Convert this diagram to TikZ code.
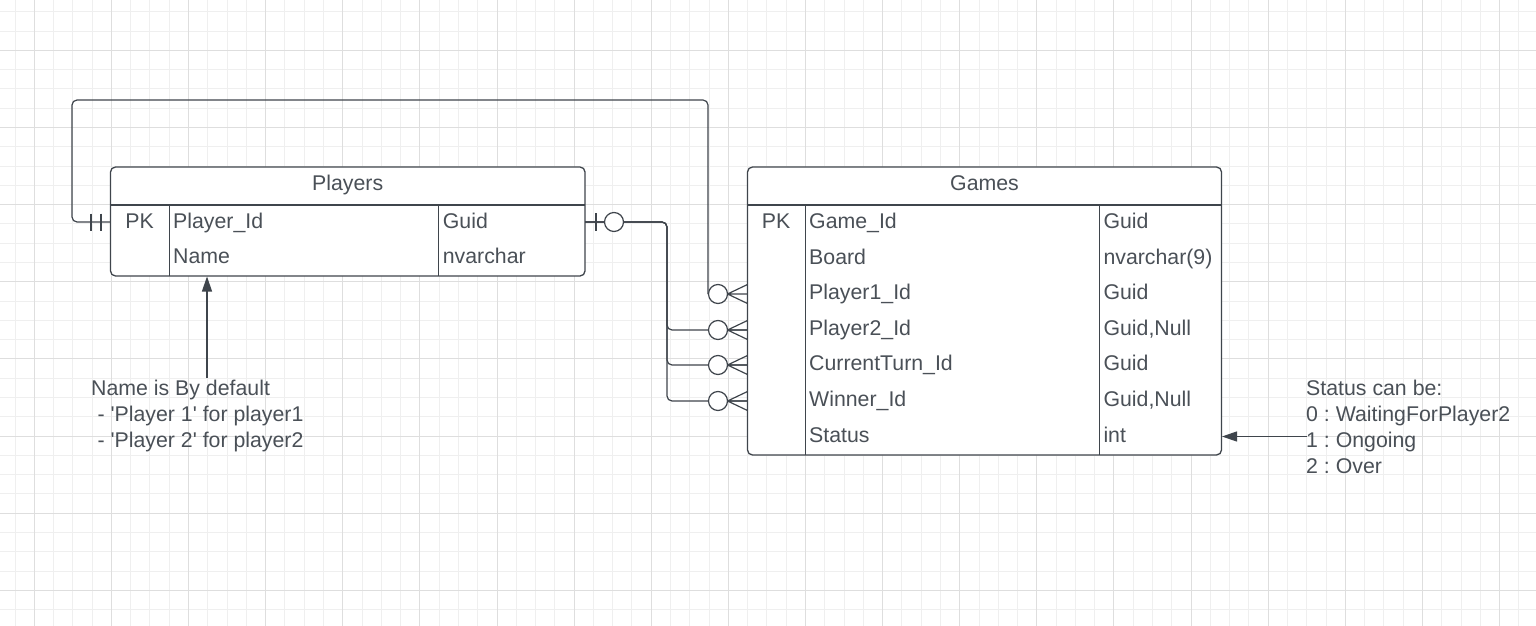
\documentclass[tikz,border=0pt]{standalone}
\usepackage{fontspec}
\setmainfont{Liberation Sans}
\usetikzlibrary{arrows.meta,calc}
\frenchspacing
\definecolor{lineC}{HTML}{3F454C}
\definecolor{textC}{HTML}{4A5057}
\definecolor{gridMinor}{HTML}{EFEFEF}
\definecolor{gridMajor}{HTML}{DEDEDE}
\tikzset{
  conn/.style={draw=lineC, line width=1.2pt},
  tblborder/.style={draw=lineC, line width=1.3pt, rounded corners=5pt},
  divider/.style={draw=lineC, line width=1pt},
  txt/.style={text=textC, inner sep=0pt, anchor=base west, font=\fontsize{21.3}{25.9}\selectfont},
  hdr/.style={text=textC, inner sep=0pt, anchor=base, font=\fontsize{21.3}{25.9}\selectfont},
  zeromany/.pic={
    \draw[conn] (-20,0) -- (0,-9.5) (-20,0) -- (0,0) (-20,0) -- (0,9.5);
    \draw[conn, fill=white] (-29.5,0) circle[radius=9.5];
  },
  zeroone/.pic={
    \draw[conn] (11,-9) -- (11,9);
    \draw[conn, fill=white] (29,0) circle[radius=9.5];
  },
  onlyone/.pic={
    \draw[conn] (-19.5,-8.5) -- (-19.5,8.5) (-9.5,-8.5) -- (-9.5,8.5);
  },
  noteArrow/.style={conn, -{Triangle[length=15pt,width=10pt]}}
}
\begin{document}
\begin{tikzpicture}[x=1pt,y=-1pt]
\useasboundingbox (0,0) rectangle (1536,626);
\fill[white] (0,0) rectangle (1536,626);
% grid
\foreach \k in {-1,...,78} {
  \pgfmathsetmacro\gx{34.3+19.28*\k}
  \draw[gridMinor, line width=1pt] (\gx,0) -- (\gx,626);
}
\foreach \k in {-2,...,30} {
  \pgfmathsetmacro\gy{50.3+19.29*\k}
  \draw[gridMinor, line width=1pt] (0,\gy) -- (1536,\gy);
}
\foreach \k in {0,...,19} {
  \pgfmathsetmacro\gx{34.3+77.12*\k}
  \draw[gridMajor, line width=1pt] (\gx,0) -- (\gx,626);
}
\foreach \k in {0,...,7} {
  \pgfmathsetmacro\gy{50.3+77.16*\k}
  \draw[gridMajor, line width=1pt] (0,\gy) -- (1536,\gy);
}

% ---------- Players table ----------
\fill[white] (110.5,167) rectangle (585,276);
\draw[tblborder] (110.5,167) rectangle (585,276);
\draw[divider, line width=1.3pt] (110.5,205) -- (585,205);
\draw[divider] (169,205) -- (169,276);
\draw[divider] (438.7,205) -- (438.7,276);
\node[hdr] (plTitle) at (347.7,190.6) {Players};
\node[hdr] (plPK) at (139.7,228.3) {PK};
\node[txt] (plId) at (173,228.3) {Player\_Id};
\node[txt] (plIdT) at (442.7,228.3) {Guid};
\node[txt] (plName) at (173,263.3) {Name};
\node[txt] (plNameT) at (442.7,263.3) {nvarchar};

% ---------- Games table ----------
\fill[white] (747.5,167) rectangle (1221.5,455);
\draw[tblborder] (747.5,167) rectangle (1221.5,455);
\draw[divider, line width=1.3pt] (747.5,205) -- (1221.5,205);
\draw[divider] (805,205) -- (805,455);
\draw[divider] (1099.3,205) -- (1099.3,455);
\node[hdr] (gmTitle) at (984.5,190.6) {Games};
\node[hdr] (gmPK) at (776,228.6) {PK};
\node[txt] (gmId) at (809,228.6) {Game\_Id};
\node[txt] (gmIdT) at (1103.3,228.6) {Guid};
\node[txt] (gmBoard) at (809,264.2) {Board};
\node[txt] (gmBoardT) at (1103.3,264.2) {nvarchar(9)};
\node[txt] (gmP1) at (809,299.8) {Player1\_Id};
\node[txt] (gmP1T) at (1103.3,299.8) {Guid};
\node[txt] (gmP2) at (809,335.3) {Player2\_Id};
\node[txt] (gmP2T) at (1103.3,335.3) {Guid,Null};
\node[txt] (gmCT) at (809,370.9) {CurrentTurn\_Id};
\node[txt] (gmCTT) at (1103.3,370.9) {Guid};
\node[txt] (gmW) at (809,406.5) {Winner\_Id};
\node[txt] (gmWT) at (1103.3,406.5) {Guid,Null};
\node[txt] (gmSt) at (809,442) {Status};
\node[txt] (gmStT) at (1103.3,442) {int};

% ---------- anchor coordinates ----------
\coordinate (P-pid-W) at (110.5,222);
\coordinate (P-pid-E) at (585,222);
\coordinate (P-bottom) at (207,276.5);
\coordinate (G-p1-W) at (747.5,294);
\coordinate (G-p2-W) at (747.5,330);
\coordinate (G-ct-W) at (747.5,365);
\coordinate (G-w-W) at (747.5,401);
\coordinate (G-st-E) at (1222,436.5);
\coordinate (loopTL) at (72,100);
\coordinate (loopTR) at (708,100);
\coordinate (busTop) at (667,222);

% ---------- connectors ----------
\draw[conn, rounded corners=5pt] (P-pid-W) -| (loopTL) -- (loopTR) |- ($(G-p1-W)+(-39.5,0)$);
\draw[conn, rounded corners=5pt] (P-pid-E) -- (busTop) |- (G-p2-W);
\draw[conn, rounded corners=5pt] (P-pid-E) -- (busTop) |- (G-ct-W);
\draw[conn, rounded corners=5pt] (P-pid-E) -- (busTop) |- (G-w-W);

\pic at (P-pid-W) {onlyone};
\pic at (P-pid-E) {zeroone};
\pic at (G-p1-W) {zeromany};
\pic at (G-p2-W) {zeromany};
\pic at (G-ct-W) {zeromany};
\pic at (G-w-W) {zeromany};

% ---------- notes ----------
\node[txt] (nameNote1) at (91,395.6) {Name is By default};
\node[txt] (nameNote2) at (97.4,421.5) {- \textquotesingle Player 1\textquotesingle{} for player1};
\node[txt] (nameNote3) at (97.4,447.4) {- \textquotesingle Player 2\textquotesingle{} for player2};
\coordinate (nameArrowStart) at (207,378);
\draw[noteArrow] (nameArrowStart) -- (P-bottom);

\node[txt] (stNote1) at (1306,395.6) {Status can be:};
\node[txt] (stNote2) at (1306,421.5) {0 : WaitingForPlayer2};
\node[txt] (stNote3) at (1306,447.4) {1 : Ongoing};
\node[txt] (stNote4) at (1306,473.3) {2 : Over};
\coordinate (stArrowStart) at (1306.7,436.5);
\draw[noteArrow] (stArrowStart) -- (G-st-E);
\end{tikzpicture}
\end{document}
